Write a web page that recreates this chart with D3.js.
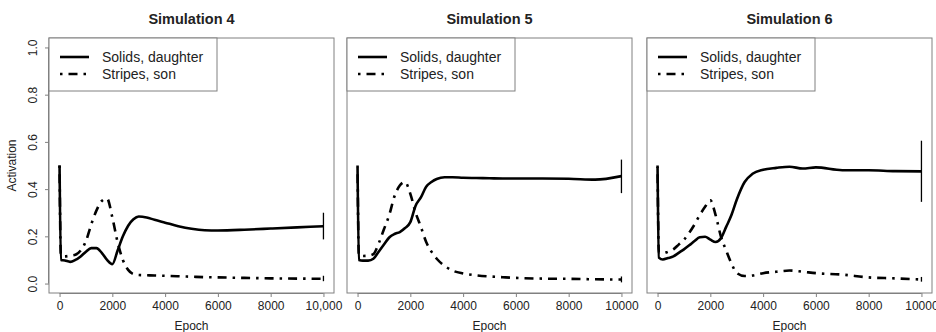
<!DOCTYPE html>
<html>
<head>
<meta charset="utf-8">
<script src="https://cdn.jsdelivr.net/npm/d3@7"></script>
<style>
  body { margin: 0; background: #fff; }
  svg { font-family: "Liberation Sans", Arial, Helvetica, sans-serif; }
</style>
</head>
<body>
<div class="container"></div>
<script>
// shared epoch grid for every series
const epochs = [0, 50, 200, 400, 600, 800, 1000, 1200, 1400, 1600, 1800, 2000, 2200, 2400, 2600,
  2800, 3000, 3300, 3600, 4000, 4500, 5000, 5500, 6000, 7000, 8000, 9000, 10000]

const titles = ["Simulation 4", "Simulation 5", "Simulation 6"]
const seriesNames = ["Solids, daughter", "Stripes, son"]
const xTicks = [0, 2000, 4000, 6000, 8000, 10000]
const yTicks = [0, 0.2, 0.4, 0.6, 0.8, 1.0]

const solids4 = [0.5, 0.1, 0.098, 0.092, 0.1, 0.115, 0.135, 0.15, 0.15, 0.13, 0.1, 0.082, 0.14, 0.2,
  0.245, 0.272, 0.284, 0.28, 0.27, 0.258, 0.243, 0.232, 0.226, 0.225, 0.228, 0.233, 0.238, 0.243]
const stripes4 = [0.5, 0.12, 0.115, 0.118, 0.122, 0.14, 0.18, 0.25, 0.31, 0.35, 0.36, 0.28, 0.175, 0.1,
  0.058, 0.04, 0.036, 0.035, 0.034, 0.033, 0.031, 0.029, 0.027, 0.026, 0.024, 0.022, 0.021, 0.02]

const solids5 = [0.49, 0.1, 0.097, 0.097, 0.105, 0.135, 0.165, 0.195, 0.21, 0.218, 0.235, 0.26, 0.33, 0.365,
  0.41, 0.43, 0.443, 0.45, 0.45, 0.448, 0.447, 0.446, 0.445, 0.445, 0.445, 0.444, 0.44, 0.455]
const stripes5 = [0.5, 0.12, 0.117, 0.118, 0.125, 0.17, 0.23, 0.29, 0.37, 0.415, 0.43, 0.38, 0.3, 0.24,
  0.176, 0.135, 0.105, 0.075, 0.055, 0.043, 0.035, 0.03, 0.027, 0.024, 0.021, 0.02, 0.018, 0.017]

const solids6 = [0.494, 0.11, 0.102, 0.108, 0.115, 0.13, 0.145, 0.162, 0.18, 0.196, 0.198, 0.186, 0.176, 0.192,
  0.24, 0.29, 0.355, 0.43, 0.465, 0.482, 0.49, 0.495, 0.487, 0.492, 0.48, 0.48, 0.476, 0.475]
const stripes6 = [0.5, 0.13, 0.128, 0.135, 0.145, 0.165, 0.185, 0.215, 0.25, 0.29, 0.325, 0.353, 0.29, 0.2,
  0.14, 0.085, 0.045, 0.032, 0.034, 0.044, 0.05, 0.055, 0.05, 0.044, 0.038, 0.026, 0.022, 0.017]

// final-epoch ranges [low, high]
const errSolids = [[0.187, 0.3], [0.383, 0.525], [0.346, 0.605]]
const errStripes = [[0.01, 0.033], [0.005, 0.03], [0.008, 0.028]]

const allSolids = [solids4, solids5, solids6]
const allStripes = [stripes4, stripes5, stripes6]

const svg = d3.select(".container").append("svg")
svg.attr("width", 936)
svg.attr("height", 332)

const panelLefts = [49, 347, 647]
const panelW = 285
const plotTop = 38, plotBottom = 293
const grey = "#808080"
const textCol = "#222"
const dotdash = "2.5,6,9,6"

const y = d3.scaleLinear().domain([-0.04, 1.04]).range([plotBottom, plotTop])

for (let p = 0; p < 3; p++) {
  const left = panelLefts[p]
  const x = d3.scaleLinear().domain([-400, 10400]).range([left, left + panelW])
  const g = svg.append("g")

  g.append("text")
    .attr("x", left + panelW / 2)
    .attr("y", 24)
    .attr("text-anchor", "middle")
    .attr("font-weight", "bold")
    .attr("font-size", 14.5)
    .attr("fill", textCol)
    .text(titles[p])

  g.append("rect")
    .attr("x", left).attr("y", plotTop)
    .attr("width", panelW).attr("height", plotBottom - plotTop)
    .attr("fill", "none").attr("stroke", grey)

  // x axis
  const xAxis = d3.axisBottom(x)
    .tickValues(xTicks)
    .tickSize(4)
    .tickPadding(4)
    .tickFormat(d => (p === 0 && d === 10000) ? "10,000" : String(d))
  const ax = g.append("g").attr("transform", `translate(0,${plotBottom})`).call(xAxis)
  ax.select(".domain").attr("d", `M${x(0)},0.5H${x(10000)}`).attr("stroke", grey)
  ax.selectAll(".tick line").attr("stroke", grey)
  ax.selectAll("text").attr("font-size", 12).attr("fill", textCol).attr("font-family", null)

  g.append("text")
    .attr("x", x(5000))
    .attr("y", 330)
    .attr("text-anchor", "middle")
    .attr("font-size", 12)
    .attr("fill", textCol)
    .text("Epoch")

  if (p === 0) {
    const yAxis = d3.axisLeft(y).tickValues(yTicks).tickSize(4).tickFormat(d3.format(".1f"))
    const ay = g.append("g").attr("transform", `translate(${left},0)`).call(yAxis)
    ay.select(".domain").attr("d", `M-0.5,${y(0)}V${y(1)}`).attr("stroke", grey)
    ay.selectAll(".tick line").attr("stroke", grey)
    ay.selectAll("text")
      .attr("font-size", 12).attr("fill", textCol).attr("font-family", null)
      .attr("x", null).attr("dy", null)
      .attr("text-anchor", "middle")
      .attr("transform", "translate(-12,0) rotate(-90)")
    g.append("text")
      .attr("transform", `translate(16,${y(0.5)}) rotate(-90)`)
      .attr("text-anchor", "middle")
      .attr("font-size", 12)
      .attr("fill", textCol)
      .text("Activation")
  }

  const line = d3.line()
    .x((d, i) => x(epochs[i]))
    .y(d => y(d))
    .curve(d3.curveMonotoneX)

  g.append("path")
    .attr("d", line(allStripes[p]))
    .attr("fill", "none").attr("stroke", "#000")
    .attr("stroke-width", 2.6)
    .attr("stroke-dasharray", dotdash)

  g.append("path")
    .attr("d", line(allSolids[p]))
    .attr("fill", "none").attr("stroke", "#000")
    .attr("stroke-width", 2.6)

  const errs = [errSolids[p], errStripes[p]]
  errs.forEach(e => {
    g.append("line")
      .attr("x1", x(10000)).attr("x2", x(10000))
      .attr("y1", y(e[0])).attr("y2", y(e[1]))
      .attr("stroke", "#000").attr("stroke-width", 1.3)
  })

  // legend
  const lg = g.append("g")
  lg.append("rect")
    .attr("x", left).attr("y", plotTop)
    .attr("width", 168).attr("height", 53)
    .attr("fill", "#fff").attr("stroke", grey)
  seriesNames.forEach((name, i) => {
    const ly = 57 + i * 17
    lg.append("line")
      .attr("x1", left + 11).attr("x2", left + 40)
      .attr("y1", ly).attr("y2", ly)
      .attr("stroke", "#000").attr("stroke-width", 2.6)
      .attr("stroke-dasharray", i === 1 ? dotdash : null)
    lg.append("text")
      .attr("x", left + 53).attr("y", ly + 5)
      .attr("font-size", 14)
      .attr("fill", textCol)
      .text(name)
  })
}
</script>
</body>
</html>
